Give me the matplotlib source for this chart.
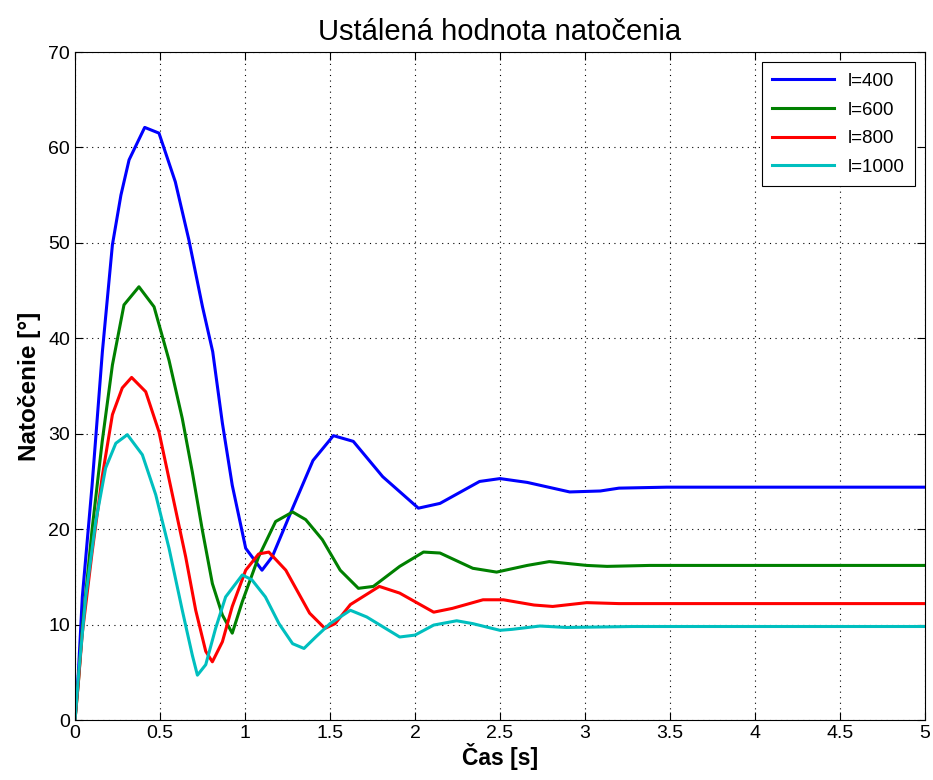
import matplotlib
matplotlib.use('Agg')
import matplotlib.pyplot as plt

plt.rcParams['font.family'] = ['Liberation Sans', 'DejaVu Sans']

# Odčítané body priebehov (čas [s], natočenie [°])
t_400 = [0, 0.02, 0.043, 0.10, 0.161, 0.22, 0.27, 0.318, 0.41, 0.494, 0.59, 0.67, 0.75,
         0.81, 0.867, 0.925, 1.004, 1.10, 1.16, 1.28, 1.40, 1.52, 1.637, 1.81, 2.02, 2.147,
         2.38, 2.5, 2.66, 2.91, 3.09, 3.2, 3.48, 3.7, 4.0, 4.5, 5.0]
v_400 = [0, 5.0, 12.9, 24.5, 38.6, 49.8, 55.0, 58.7, 62.1, 61.5, 56.4, 50.3, 43.3,
         38.6, 31.1, 24.6, 18.0, 15.7, 17.1, 22.2, 27.2, 29.8, 29.2, 25.5, 22.2, 22.7,
         25.0, 25.3, 24.9, 23.9, 24.0, 24.3, 24.4, 24.4, 24.4, 24.4, 24.4]

t_600 = [0, 0.02, 0.043, 0.10, 0.16, 0.22, 0.288, 0.376, 0.465, 0.553, 0.631, 0.69, 0.749,
         0.808, 0.867, 0.925, 0.984, 1.08, 1.18, 1.28, 1.357, 1.455, 1.56, 1.667, 1.755,
         1.91, 2.05, 2.147, 2.34, 2.48, 2.66, 2.79, 3.01, 3.13, 3.38, 4.0, 4.5, 5.0]
v_600 = [0, 4.0, 9.6, 19.9, 29.2, 37.2, 43.5, 45.4, 43.3, 37.7, 31.6, 26.0, 19.9,
         14.3, 11.0, 9.1, 12.4, 17.1, 20.8, 21.8, 21.0, 18.9, 15.7, 13.8, 14.0,
         16.1, 17.6, 17.5, 15.9, 15.5, 16.2, 16.6, 16.2, 16.1, 16.2, 16.2, 16.2, 16.2]

t_800 = [0, 0.02, 0.043, 0.10, 0.16, 0.22, 0.278, 0.333, 0.416, 0.494, 0.573, 0.651, 0.71,
         0.769, 0.808, 0.867, 0.925, 1.004, 1.08, 1.14, 1.24, 1.38, 1.47, 1.53, 1.62,
         1.79, 1.91, 2.11, 2.22, 2.40, 2.52, 2.70, 2.81, 3.01, 3.20, 4.0, 4.5, 5.0]
v_800 = [0, 4.0, 9.1, 17.5, 25.5, 32.0, 34.8, 35.9, 34.4, 30.2, 23.6, 17.1, 11.5,
         7.2, 6.1, 8.2, 11.9, 15.7, 17.4, 17.6, 15.7, 11.2, 9.6, 10.1, 12.1,
         14.0, 13.3, 11.3, 11.7, 12.6, 12.6, 12.05, 11.9, 12.3, 12.2, 12.2, 12.2, 12.2]

t_1000 = [0, 0.024, 0.063, 0.122, 0.18, 0.24, 0.308, 0.396, 0.475, 0.553, 0.631, 0.69, 0.72,
          0.769, 0.827, 0.886, 0.984, 1.04, 1.12, 1.2, 1.28, 1.347, 1.416, 1.5, 1.62,
          1.716, 1.91, 2.0, 2.11, 2.245, 2.34, 2.5, 2.57, 2.735, 2.89, 3.28, 4.0, 5.0]
v_1000 = [0, 5.4, 12.9, 20.8, 26.4, 29.0, 29.9, 27.8, 23.6, 18.0, 11.5, 6.8, 4.7,
          5.8, 9.6, 12.9, 15.2, 14.7, 12.9, 10.1, 8.0, 7.5, 8.7, 10.1, 11.5,
          10.8, 8.7, 8.9, 9.95, 10.4, 10.1, 9.4, 9.5, 9.85, 9.7, 9.8, 9.8, 9.8]

labels = ['l=400', 'l=600', 'l=800', 'l=1000']
colors = ['#0000ff', '#008000', '#ff0000', '#00bfbf']

fig = plt.figure(figsize=(9.33, 7.8), dpi=100)
ax = fig.add_axes([0.0804, 0.0769, 0.911, 0.8564])

for t, v, lab, c in zip([t_400, t_600, t_800, t_1000],
                        [v_400, v_600, v_800, v_1000], labels, colors):
    ax.plot(t, v, color=c, linewidth=2.2, label=lab)

ax.set_xlim(0, 5)
ax.set_ylim(0, 70)
ax.set_xticks([0, 0.5, 1, 1.5, 2, 2.5, 3, 3.5, 4, 4.5, 5])
ax.set_xticklabels(['0', '0.5', '1', '1.5', '2', '2.5', '3', '3.5', '4', '4.5', '5'])
ax.set_yticks(range(0, 71, 10))
ax.grid(True, color='black', linestyle=(0, (1, 4)), linewidth=0.8)
ax.tick_params(direction='in', top=True, right=True, labelsize=14, length=6, width=0.8)
for s in ax.spines.values():
    s.set_linewidth(0.8)

ax.set_title('Ustálená hodnota natočenia', fontsize=21, pad=9)
ax.set_xlabel('Čas [s]', fontsize=16.5, fontweight='bold', labelpad=1)
ax.set_ylabel('Natočenie [°]', fontsize=17.5, fontweight='bold', labelpad=5)

leg = ax.legend(loc='upper right', fontsize=13.5, fancybox=False, framealpha=1,
                edgecolor='black', handlelength=3.3, borderaxespad=0.55,
                labelspacing=0.62, borderpad=0.55, handletextpad=0.7)
leg.get_frame().set_linewidth(0.8)

fig.savefig('out.png', dpi=100)
